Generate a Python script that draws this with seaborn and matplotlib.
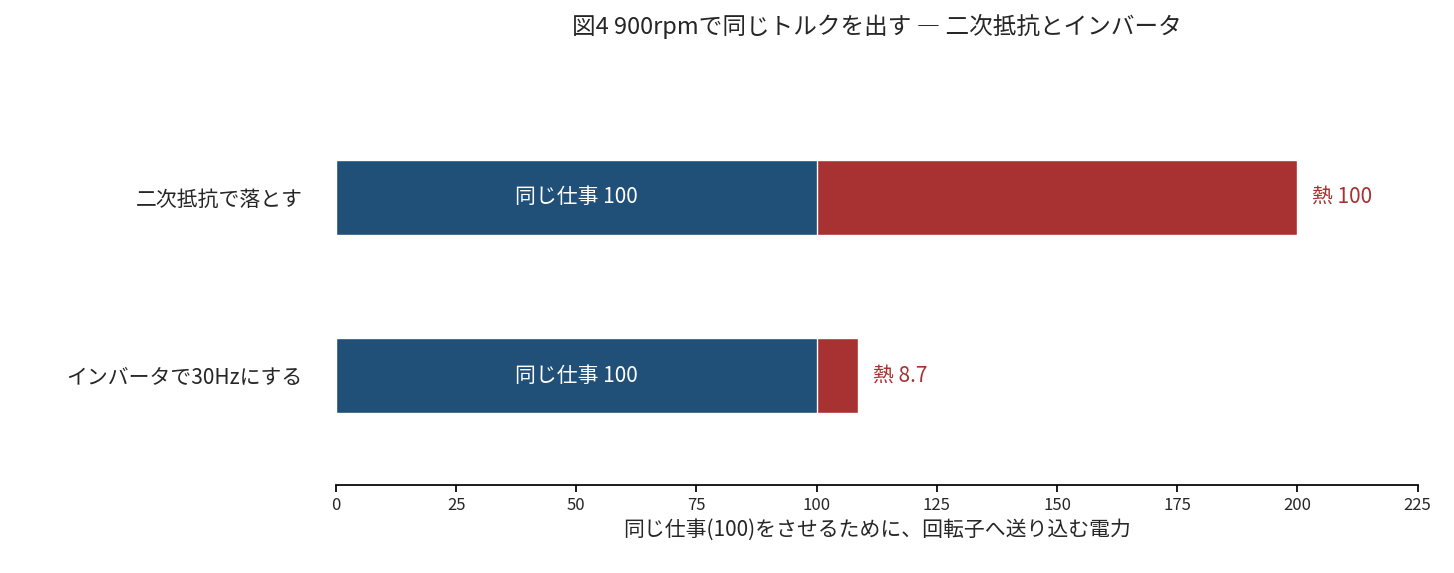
import matplotlib
matplotlib.use("Agg")
import matplotlib.pyplot as plt
import seaborn as sns
import pandas as pd

categories = ["二次抵抗で落とす", "インバータで30Hzにする"]
work = [100, 100]
heat = [100, 8.7]
heat_labels = ["熱 100", "熱 8.7"]
work_labels = ["同じ仕事 100", "同じ仕事 100"]

sns.set_theme(style="white")
plt.rcParams['font.family'] = ['Noto Sans CJK JP', 'DejaVu Sans']

blue = "#204f77"
red = "#a83232"

df = pd.DataFrame({"cat": categories, "work": work, "heat": heat})
df["total"] = df["work"] + df["heat"]

fig = plt.figure(figsize=(14.54, 5.73), dpi=100)
ax = fig.add_axes([0.231, 0.154, 0.744, 0.692])
sns.barplot(data=df, y="cat", x="total", color=red, orient="h", width=0.42, ax=ax, saturation=1)
sns.barplot(data=df, y="cat", x="work", color=blue, orient="h", width=0.42, ax=ax, saturation=1)

for i in range(len(categories)):
    ax.text(df["work"][i] / 2, i, work_labels[i], color="white", ha="center", va="center", fontsize=15)
    ax.text(df["total"][i] + 3, i, heat_labels[i], color=red, ha="left", va="center", fontsize=15)

ax.set_xlim(0, 225)
ax.set_ylim(1.61, -0.61)
ax.set_xticks(range(0, 226, 25))
ax.tick_params(axis="x", labelsize=12, bottom=True, length=5, color="black")
ax.tick_params(axis="y", labelsize=15, left=False, pad=18)
for s in ["top", "right", "left"]:
    ax.spines[s].set_visible(False)
ax.spines["bottom"].set_color("black")
ax.set_ylabel("")
ax.set_xlabel("同じ仕事(100)をさせるために、回転子へ送り込む電力", fontsize=15, labelpad=4)
fig.suptitle("図4 900rpmで同じトルクを出す ― 二次抵抗とインバータ", fontsize=17, x=0.603, y=0.975)

fig.savefig("out.png", dpi=100)
